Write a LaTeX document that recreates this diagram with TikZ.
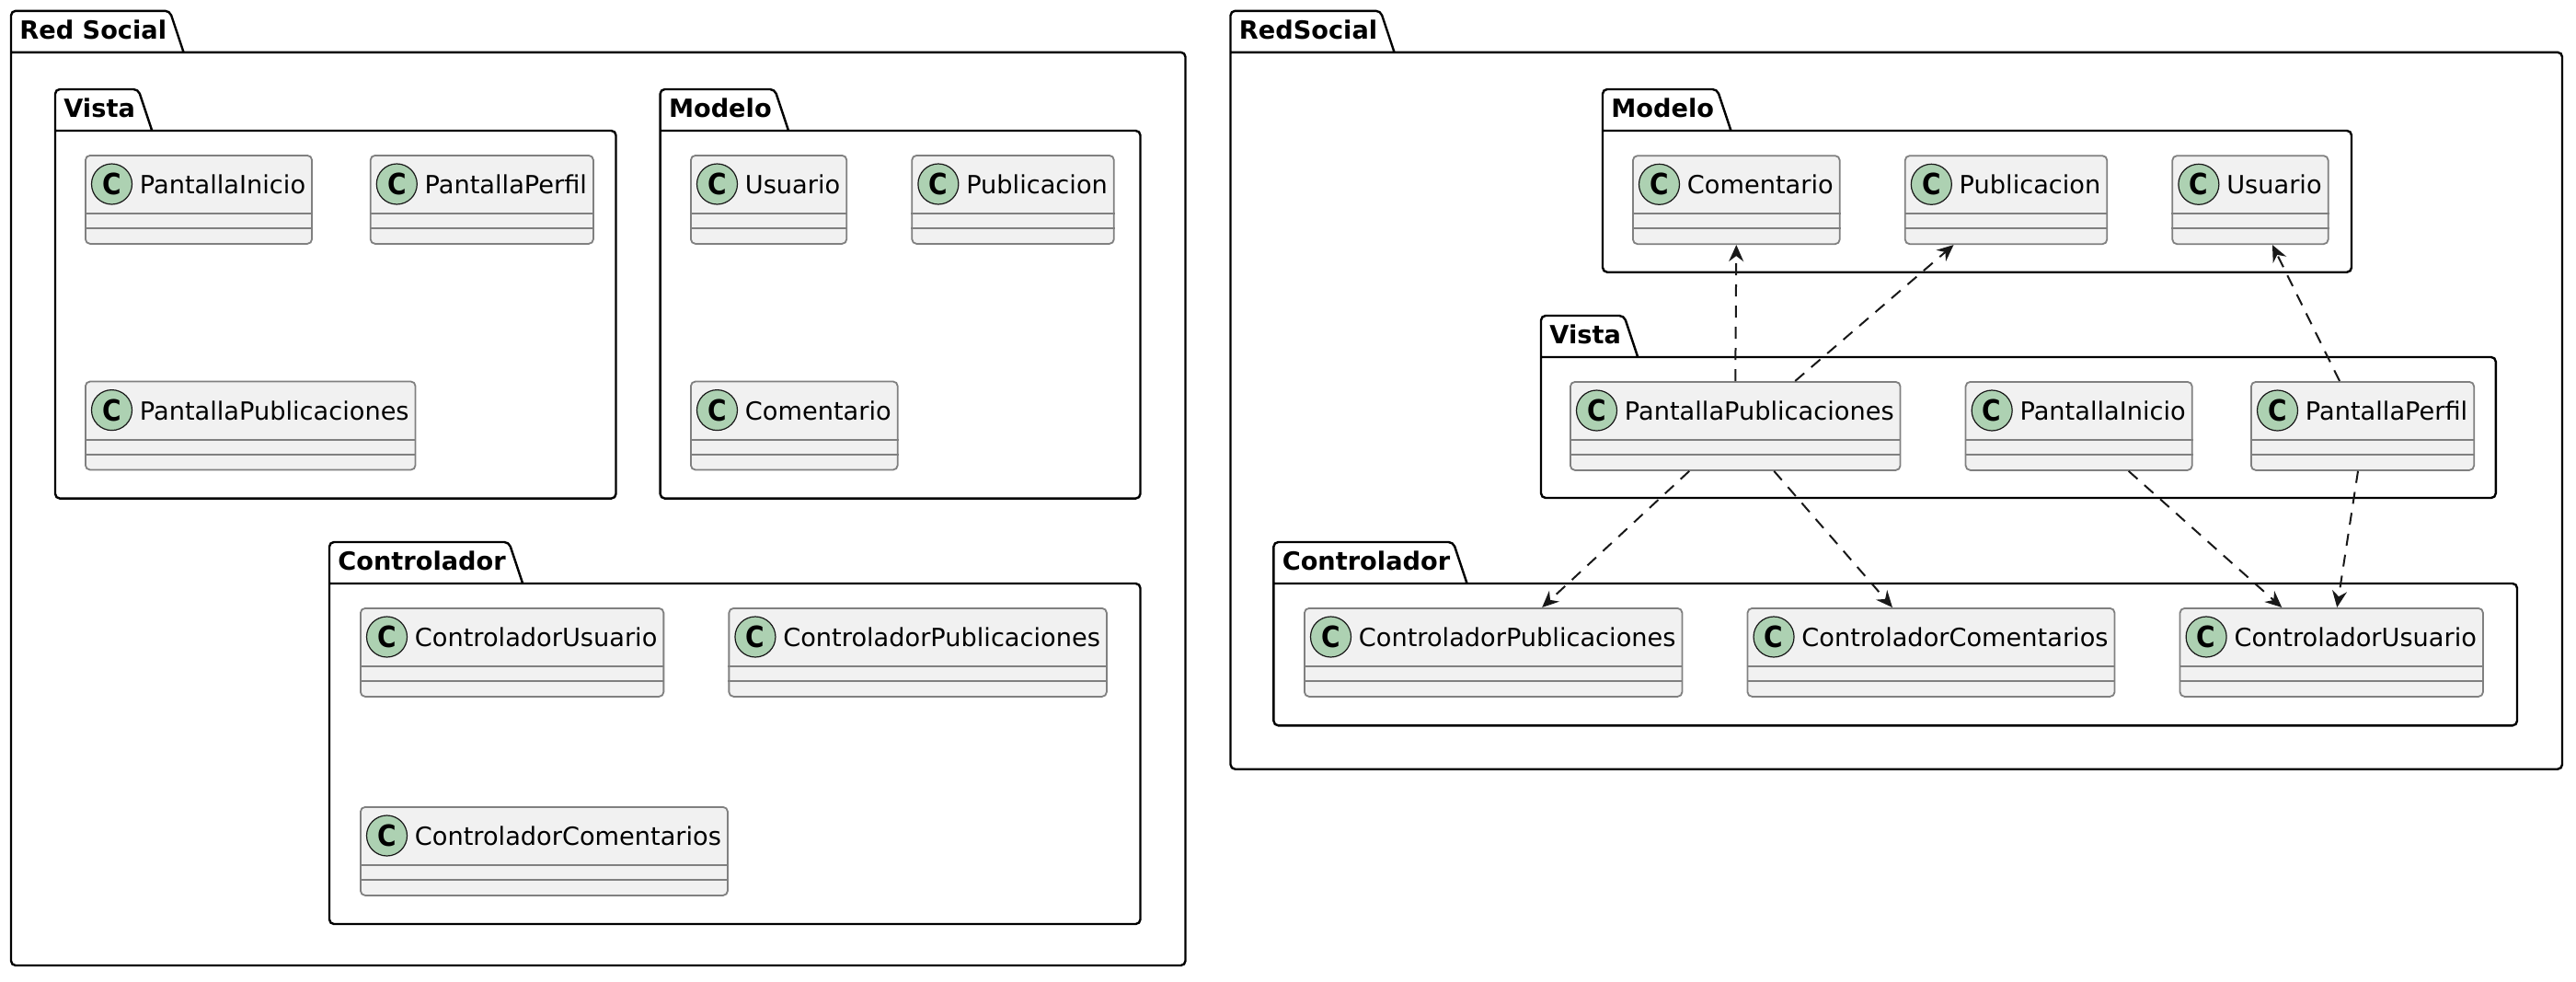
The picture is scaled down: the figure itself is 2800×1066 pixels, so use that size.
\documentclass[tikz,border=0pt]{standalone}
\usepackage{fontspec}
\setmainfont{DejaVu Sans}
\usetikzlibrary{positioning,arrows.meta,calc}

\definecolor{clsfill}{HTML}{F1F1F1}
\definecolor{clsline}{HTML}{808080}
\definecolor{badgefill}{HTML}{ADD1B2}
\definecolor{inkdark}{HTML}{181818}

\newcommand{\clsfont}{\fontsize{13.6pt}{16pt}\selectfont}
\newcommand{\pkgfont}{\fontsize{13.6pt}{16pt}\selectfont\bfseries}
\newcommand{\badgefont}{\fontsize{15.9pt}{18pt}\selectfont\bfseries}

% class box: name, placement, text
\newcommand{\umlclass}[3]{%
  \node[classbox,#2] (#1) {\hspace*{26pt}#3};
  \node[badge] (#1-c) at ([xshift=14.75pt,yshift=-16pt]#1.north west) {\scalebox{0.88}[1]{C}};
  \draw[sepline] ([yshift=-32pt]#1.north west) -- ([yshift=-32pt]#1.north east)
                 ([yshift=-40pt]#1.north west) -- ([yshift=-40pt]#1.north east);
}

% package frame: name, left, top, right, bottom, label
\newcommand{\umlpkg}[6]{%
  \node[pkglabel] (#1) at (#2+6,#3+30.5) {#6};
  \coordinate (#1-top) at (#2,#3);
  \coordinate (#1-bar) at (#2,#3+45);
  \draw[pkgline] (#1-bar) -- (#4,#3+45) -- (#4,#5) -- (#2,#5) -- (#1-top)
    -- (#1.east |- #1-top) -- ($(#1.east |- #1-bar)+(15,0)$);
}

\begin{document}
\begin{tikzpicture}[
  x=0.5pt,y=-0.5pt,
  node distance=34.6pt,
  classbox/.style={draw=clsline,fill=clsfill,line width=0.9pt,rounded corners=2.5pt,
    anchor=north west,inner xsep=3.5pt,inner ysep=0pt,
    text height=20.85pt,text depth=27.15pt,font=\clsfont},
  badge/.style={circle,draw=inkdark,fill=badgefill,line width=0.6pt,
    minimum size=22pt,inner sep=0pt,font=\badgefont},
  sepline/.style={draw=clsline,line width=0.9pt},
  pkgline/.style={draw=black,line width=1.2pt,rounded corners=2.5pt},
  pkglabel/.style={anchor=base west,inner xsep=1.5pt,inner ysep=0pt,font=\pkgfont},
  dep/.style={draw=inkdark,line width=1pt,dash pattern=on 6.5pt off 5pt,
    -{Stealth[length=9pt,width=8pt,inset=3pt]}}
]
\useasboundingbox (0,0) rectangle (2800,1066);

% left diagram
\umlpkg{redsocial}{12}{11.8}{1288.5}{1049}{Red Social}
\umlpkg{vista}{60}{97}{669.5}{541.6}{Vista}
\umlpkg{modelo}{717.6}{97}{1239.5}{541.6}{Modelo}
\umlpkg{control}{358}{589}{1239.5}{1004}{Controlador}

\umlclass{vini}{at={(92,168)}}{PantallaInicio}
\umlclass{vper}{at={(401.8,168)}}{PantallaPerfil}
\umlclass{vpub}{at={(92,413.6)}}{PantallaPublicaciones}
\umlclass{musu}{at={(750,168)}}{Usuario}
\umlclass{mpub}{right=of musu}{Publicacion}
\umlclass{mcom}{at={(750,413.6)}}{Comentario}
\umlclass{cusu}{at={(391,660)}}{ControladorUsuario}
\umlclass{cpub}{right=of cusu}{ControladorPublicaciones}
\umlclass{ccom}{at={(391,876)}}{ControladorComentarios}

% right diagram
\umlpkg{redsocial2}{1337.5}{11.8}{2785}{835.7}{RedSocial}
\umlpkg{modelo2}{1742}{97}{2556}{295.7}{Modelo}
\umlpkg{vista2}{1675}{343}{2712.8}{541}{Vista}
\umlpkg{control2}{1384.4}{589}{2736}{788.3}{Controlador}

\umlclass{mcom2}{at={(1774,168.3)}}{Comentario}
\umlclass{mpub2}{right=of mcom2}{Publicacion}
\umlclass{musu2}{right=of mpub2}{Usuario}
\umlclass{vpub2}{at={(1706,414)}}{PantallaPublicaciones}
\umlclass{vini2}{right=of vpub2}{PantallaInicio}
\umlclass{vper2}{at={(2446,414)}}{PantallaPerfil}
\umlclass{cpub2}{at={(1417,660)}}{ControladorPublicaciones}
\umlclass{ccom2}{right=of cpub2}{ControladorComentarios}
\umlclass{cusu2}{right=of ccom2}{ControladorUsuario}

\draw[dep] (vpub2.north) -- (mcom2.south);
\draw[dep] ([xshift=32.5pt]vpub2.north) -- ([xshift=-28.5pt]mpub2.south);
\draw[dep] ([xshift=-12.5pt]vper2.north) -- ([xshift=12pt]musu2.south);
\draw[dep] ([xshift=-25pt]vpub2.south) -- ([xshift=26.5pt]cpub2.north);
\draw[dep] ([xshift=21pt]vpub2.south) -- ([xshift=-21pt]ccom2.north);
\draw[dep] ([xshift=27pt]vini2.south) -- ([xshift=-27pt]cusu2.north);
\draw[dep] ([xshift=-2.5pt]vper2.south) -- ([xshift=3pt]cusu2.north);
\end{tikzpicture}
\end{document}
